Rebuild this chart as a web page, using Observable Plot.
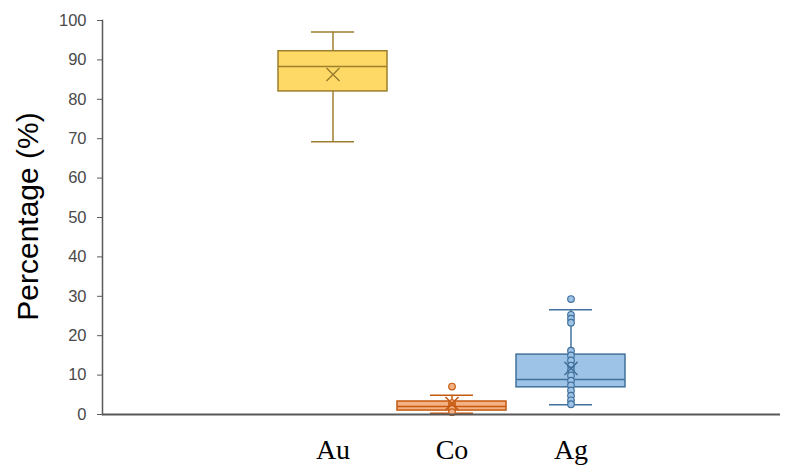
<!DOCTYPE html>
<html><head><meta charset="utf-8">
<script src="https://cdn.jsdelivr.net/npm/d3@7"></script>
<script src="https://cdn.jsdelivr.net/npm/@observablehq/plot@0.6"></script>
<style>body{margin:0;background:#fff}</style>
</head><body><div id="chart"></div>
<script>
const categories = ["Au", "Co", "Ag"];
const q1 = [82.0, 1.0, 6.9];
const median = [88.3, 2.0, 8.9];
const q3 = [92.2, 3.3, 15.2];
const whiskerLow = [69.2, 0.3, 2.5];
const whiskerHigh = [97.1, 4.9, 26.6];
const mean = [86.3, 2.8, 11.7];
const fills = ["#FFD966", "#F4B183", "#9DC3E6"];
const strokes = ["#9C7F2E", "#C55A11", "#41719C"];
const coPoints = [7.1, 2.9, 2.2, 1.4, 0.6];
const agPoints = [29.3, 25.3, 24.3, 23.3, 16.2, 15.0, 13.7, 12.4, 11.2, 9.9, 8.6, 7.4, 6.1, 4.8, 3.6, 2.6];
const yTicks = [0, 10, 20, 30, 40, 50, 60, 70, 80, 90, 100];

const boxes = categories.map((c, i) => ({
  cat: c, q1: q1[i], med: median[i], q3: q3[i], lo: whiskerLow[i], hi: whiskerHigh[i],
  mean: mean[i], fill: fills[i], stroke: strokes[i]
}));
const points = [
  ...coPoints.map(v => ({cat: "Co", v, fill: fills[1], stroke: strokes[1]})),
  ...agPoints.map(v => ({cat: "Ag", v, fill: fills[2], stroke: strokes[2]}))
];

const chart = Plot.plot({
  width: 798, height: 468,
  marginTop: 20, marginBottom: 54, marginLeft: 102, marginRight: 18,
  style: {background: "#fff"},
  x: {domain: categories, range: [272, 632], paddingInner: 0.0833, paddingOuter: 0.04167, label: null},
  y: {domain: [0, 100], label: null},
  marks: [
    Plot.axisX({tickSize: 0, tickPadding: 25, fontSize: 28, fontFamily: "Liberation Serif, DejaVu Serif, serif", fill: "#000", label: null}),
    Plot.axisY({ticks: yTicks, tickSize: 5, tickPadding: 11, fontSize: 16.5, fontFamily: "Liberation Sans, Arial, sans-serif", fill: "#4a4a4a", stroke: "#595959", label: null}),
    Plot.frame({anchor: "left", stroke: "#595959", strokeWidth: 1.5}),
    Plot.ruleX(boxes, {x: "cat", y1: "lo", y2: "q1", stroke: "stroke", strokeWidth: 1.5}),
    Plot.ruleX(boxes, {x: "cat", y1: "q3", y2: "hi", stroke: "stroke", strokeWidth: 1.5}),
    Plot.tickY(boxes, {x: "cat", y: "lo", stroke: "stroke", strokeWidth: 1.5, insetLeft: 33, insetRight: 33}),
    Plot.tickY(boxes, {x: "cat", y: "hi", stroke: "stroke", strokeWidth: 1.5, insetLeft: 33, insetRight: 33}),
    Plot.barY(boxes, {x: "cat", y1: "q1", y2: "q3", fill: "fill", stroke: "stroke", strokeWidth: 1.5}),
    Plot.tickY(boxes, {x: "cat", y: "med", stroke: "stroke", strokeWidth: 1.5}),
    Plot.dot(points, {x: "cat", y: "v", r: 3.3, fill: "fill", stroke: "stroke", strokeWidth: 1.2}),
    Plot.dot(boxes, {x: "cat", y: "mean", symbol: "times", r: 6, stroke: "stroke", strokeWidth: 1.5}),
    Plot.ruleY([0], {stroke: "#595959", strokeWidth: 2}),
    Plot.text(["Percentage (%)"], {frameAnchor: "left", textAnchor: "middle", rotate: -90, dx: -74, dy: -1, fontSize: 30, fontFamily: "Liberation Sans, Arial, sans-serif", fill: "#000"})
  ]
});
document.getElementById("chart").appendChild(chart);
</script>
</body></html>
